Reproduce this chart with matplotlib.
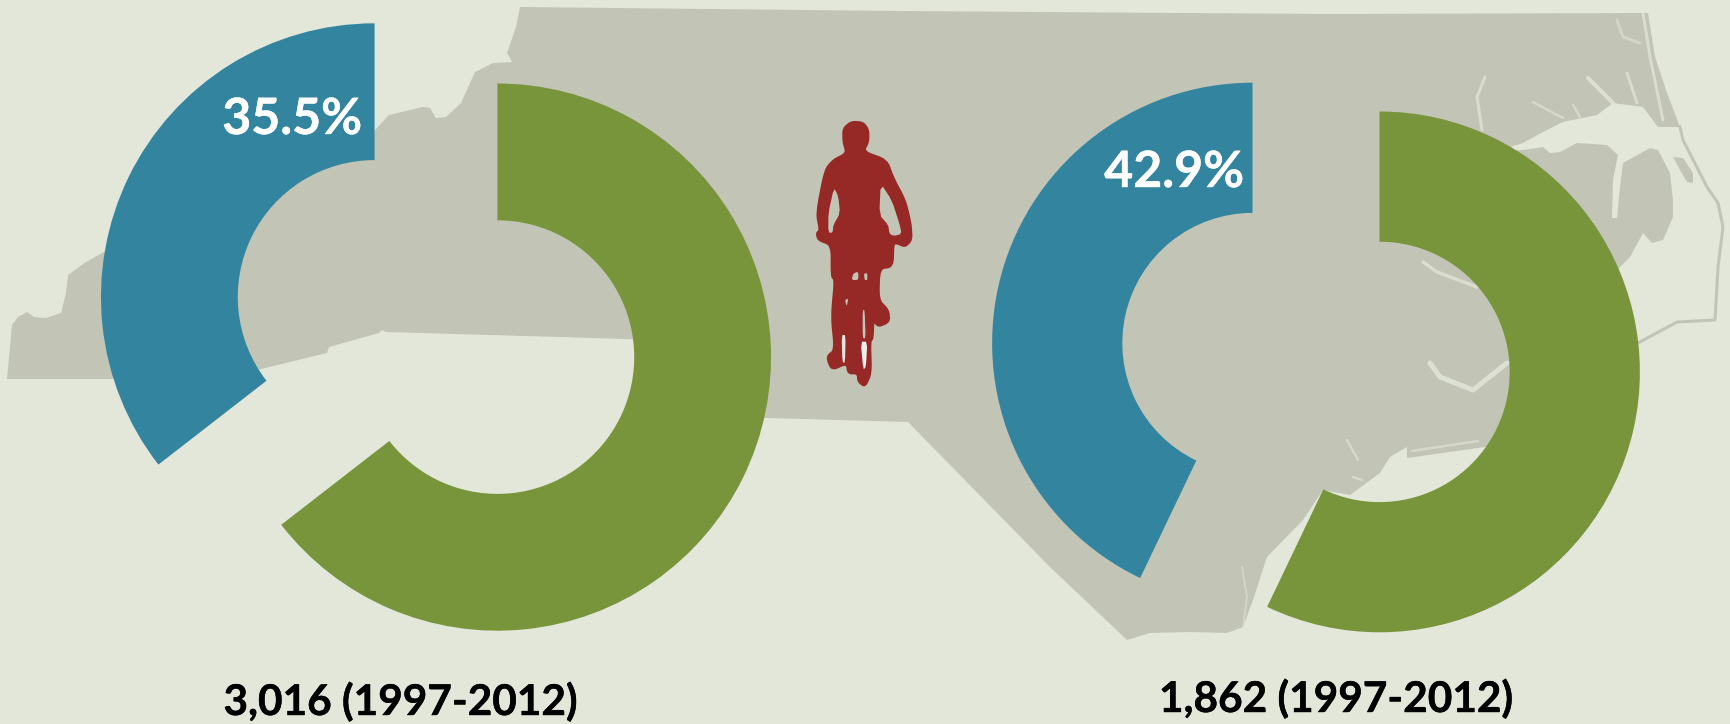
import numpy as np
import matplotlib
matplotlib.use('Agg')
import matplotlib.pyplot as plt
import matplotlib.patheffects as pe

plt.rcParams['font.family'] = ['Lato', 'DejaVu Sans']

# values
shares_left = [35.5, 64.5]
shares_right = [42.9, 57.1]
crash_counts = [3016, 1862]
period = '1997-2012'

BG = '#e3e7da'
MAP = '#c2c4b6'
BLUE = '#33849f'
GREEN = '#78953c'
RED = '#962826'
W, H = 1730, 724

# background map, traced in image pixels
state = [(520, 7), (900, 11), (1330, 14), (1648, 13), (1655, 57), (1667, 93), (1680, 127), (1658, 127),
         (1643, 107), (1613, 103), (1597, 115), (1563, 122), (1543, 132), (1523, 143), (1500, 150), (1523, 150),
         (1543, 147), (1550, 153), (1560, 152), (1577, 143), (1607, 145), (1618, 155), (1613, 180), (1612, 218),
         (1617, 218), (1620, 187), (1623, 163), (1650, 148), (1658, 150), (1670, 173), (1673, 200), (1673, 217),
         (1663, 240), (1652, 243), (1643, 233), (1630, 257), (1620, 267), (1560, 350), (1500, 440), (1485, 447),
         (1407, 458), (1407, 447), (1390, 457), (1380, 473), (1350, 495), (1323, 490), (1303, 520), (1267, 557),
         (1253, 600), (1243, 627), (1227, 633), (1190, 632), (1150, 633), (1127, 640), (1050, 567), (908, 422),
         (767, 418), (700, 417), (660, 340), (623, 339), (560, 337), (386, 332), (382, 330), (379, 333),
         (329, 347), (327, 353), (257, 370), (110, 379), (7, 379), (12, 325), (18, 317), (27, 312), (34, 317),
         (46, 318), (61, 313), (66, 293), (68, 275), (86, 262), (104, 252), (375, 130), (389, 115), (423, 107),
         (430, 108), (436, 118), (446, 117), (461, 103), (475, 72), (493, 63), (512, 62), (507, 53), (516, 27)]
barrier = [(1680, 127), (1683, 140), (1707, 187), (1718, 203), (1723, 227), (1718, 267), (1715, 320),
           (1677, 322), (1638, 343), (1620, 350)]
roanoke = [(1673, 157), (1683, 158), (1693, 173), (1693, 183), (1687, 182), (1680, 170)]
rivers = [([(1485, 77), (1477, 97), (1482, 130)], 3, 0.7),
          ([(1533, 102), (1563, 118)], 2.5, 0.6),
          ([(1573, 105), (1580, 117)], 2.5, 0.6),
          ([(1588, 78), (1613, 103)], 4, 0.8),
          ([(1627, 73), (1637, 103)], 3, 0.7),
          ([(1617, 20), (1623, 37), (1640, 43)], 3, 0.5),
          ([(1643, 13), (1650, 57), (1663, 120)], 3, 0.7),
          ([(1423, 262), (1437, 272), (1477, 287)], 3.5, 0.7),
          ([(1430, 363), (1440, 377), (1473, 390), (1507, 363)], 5, 0.85),
          ([(1412, 451), (1478, 441)], 2.5, 0.6),
          ([(1347, 440), (1358, 460)], 2.5, 0.6),
          ([(1353, 477), (1362, 480)], 2.5, 0.6),
          ([(1242, 567), (1247, 597), (1243, 627)], 2, 0.5),
          ([(1267, 567), (1257, 600)], 2, 0.5)]

rider = [(160, 85), (185, 65), (220, 68), (235, 90), (235, 125), (220, 155), (290, 180), (310, 235), (345, 300),
         (362, 370), (365, 420), (345, 440), (322, 430), (310, 430), (308, 500), (268, 505), (265, 600), (295, 630),
         (298, 665), (265, 680), (250, 660), (248, 715), (240, 725), (243, 820), (225, 860), (205, 845), (203, 820),
         (175, 820), (170, 790), (125, 810), (110, 770), (135, 750), (125, 650), (135, 540), (125, 530), (125, 435),
         (85, 420), (80, 400), (90, 390), (80, 340), (105, 210), (130, 180), (170, 160), (160, 125)]
rider_gaps = [([(132, 262), (145, 290), (150, 340), (130, 375), (128, 398), (115, 398), (115, 340)], MAP),
              ([(272, 250), (305, 300), (328, 370), (335, 402), (310, 408), (298, 400), (295, 375), (268, 345)], MAP),
              ([(218, 630), (224, 630), (227, 715), (218, 715)], MAP),
              ([(212, 725), (232, 725), (228, 800), (220, 810)], '#eeeeea'),
              ([(155, 705), (167, 705), (165, 790), (157, 785)], '#e6e4dc'),
              ([(165, 600), (175, 595), (170, 620)], MAP),
              ([(190, 520), (205, 515), (205, 540), (185, 540)], MAP),
              ([(222, 520), (232, 520), (232, 540), (224, 540)], MAP)]


def to_xy(points):
    pts = np.array(points, dtype=float)
    return pts[:, 0], H - pts[:, 1]


def rider_xy(points, rounds=1):
    # corner cutting, the silhouette is soft in the original
    pts = np.array(points, dtype=float)
    for _ in range(rounds):
        nxt = np.roll(pts, -1, axis=0)
        pts = np.column_stack([0.8 * pts + 0.2 * nxt, 0.2 * pts + 0.8 * nxt]).reshape(-1, 2)
    return 790 + pts[:, 0] / 3, H - (100 + pts[:, 1] / 3)


fig = plt.figure(figsize=(W / 100, H / 100), dpi=100, facecolor=BG)
ax = fig.add_axes([0, 0, 1, 1])
ax.set_xlim(0, W)
ax.set_ylim(0, H)
ax.axis('off')

x, y = to_xy(state)
ax.fill(x, y, color=MAP, lw=0, zorder=1)
x, y = to_xy(barrier)
ax.plot(x, y, color=MAP, lw=2.2, zorder=1, solid_joinstyle='round')
x, y = to_xy(roanoke)
ax.fill(x, y, color=MAP, lw=0, zorder=1)
for river, width, alpha in rivers:
    x, y = to_xy(river)
    ax.plot(x, y, color=BG, lw=width * 0.72, alpha=alpha, zorder=2, solid_capstyle='round')

x, y = rider_xy(rider, 2)
ax.fill(x, y, facecolor=RED, edgecolor=RED, lw=1.5, joinstyle='round', zorder=3)
for gap, col in rider_gaps:
    x, y = rider_xy(gap)
    ax.fill(x, y, color=col, lw=0, zorder=4)


def donut(cx, cy, radius, shares):
    # own axes for each pie so that explode stays a fraction of the radius
    half = 1.5 * radius
    a = fig.add_axes([(cx - half) / W, (H - cy - half) / H, 2 * half / W, 2 * half / H])
    a.patch.set_alpha(0)
    a.pie(shares, explode=[0.25, 0.25], colors=[BLUE, GREEN], startangle=90,
          wedgeprops={'width': 0.5, 'linewidth': 0})
    a.set_xlim(-1.5, 1.5)
    a.set_ylim(-1.5, 1.5)


donut(436, 327, 273.6, shares_left)
donut(1316, 357.5, 260.4, shares_right)

ax_top = fig.add_axes([0, 0, 1, 1])
ax_top.set_xlim(0, W)
ax_top.set_ylim(0, H)
ax_top.axis('off')
ax_top.patch.set_alpha(0)

white_fx = [pe.withStroke(linewidth=0.3, foreground='white')]
black_fx = [pe.withStroke(linewidth=0.3, foreground='black')]
ax_top.text(362, H - 134, f'{shares_left[0]}%', color='white', fontsize=36, fontweight='bold',
            ha='right', va='baseline', path_effects=white_fx)
ax_top.text(1244, H - 187, f'{shares_right[0]}%', color='white', fontsize=36, fontweight='bold',
            ha='right', va='baseline', path_effects=white_fx)
ax_top.text(400.5, H - 715, f'{crash_counts[0]:,} ({period})', color='black', fontsize=30.5, fontweight='bold',
            ha='center', va='baseline', path_effects=black_fx)
ax_top.text(1336, H - 712, f'{crash_counts[1]:,} ({period})', color='black', fontsize=30.5, fontweight='bold',
            ha='center', va='baseline', path_effects=black_fx)

fig.savefig('out.png', dpi=100, facecolor=BG)
